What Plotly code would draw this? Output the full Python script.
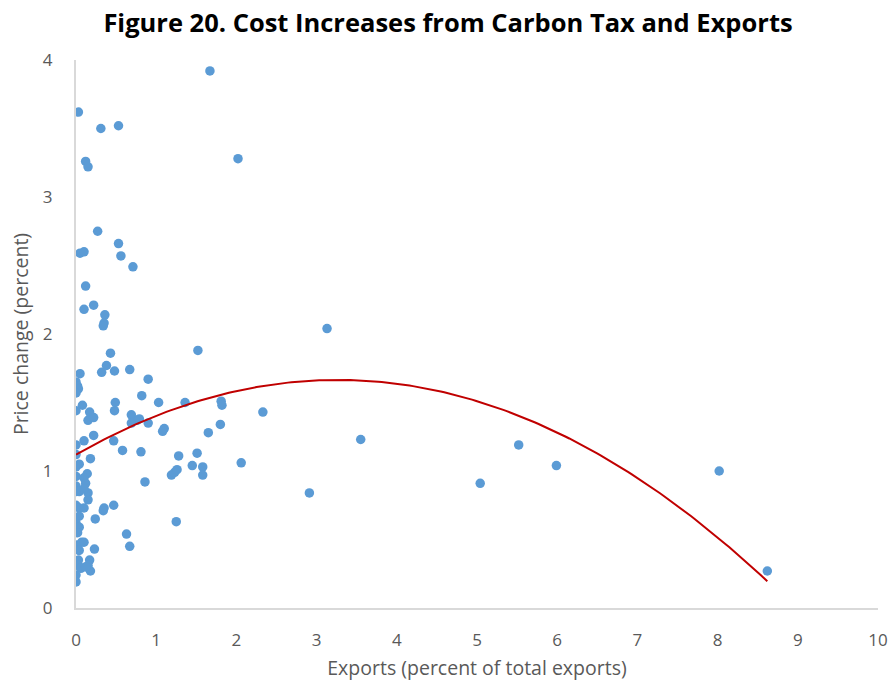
import numpy as np
import plotly.graph_objects as go

title_text = "Figure 20. Cost Increases from Carbon Tax and Exports"
x_title = "Exports (percent of total exports)"
y_title = "Price change (percent)"

exports = [1.67, 0.03, 0.31, 0.53, 0.12, 0.15, 2.02, 0.27, 0.53, 0.05,
           0.10, 0.56, 0.71, 0.12, 0.10, 0.22, 0.36, 0.35, 0.34, 3.13,
           1.52, 0.43, 0.38, 0.05, 0.32, 0.48, 0.67, 0.90, 0.00, 0.02,
           0.03, 0.00, 0.82, 0.08, 0.49, 0.48, 1.03, 1.36, 1.81, 1.82,
           0.00, 0.17, 0.15, 0.22, 0.69, 0.76, 0.79, 0.69, 0.90, 1.10,
           1.08, 1.65, 1.80, 2.33, 0.10, 0.22, 0.47, 0.00, 0.00, 0.58,
           0.81, 0.18, 1.28, 1.51, 2.06, 0.00, 0.04, 0.14, 1.45, 1.58,
           1.58, 1.19, 1.23, 1.26, 0.00, 0.10, 0.12, 0.86, 0.00, 0.00,
           0.04, 0.15, 0.10, 0.15, 0.00, 0.04, 0.10, 0.35, 0.34, 0.47,
           0.24, 1.25, 0.04, 0.00, 0.04, 0.02, 0.63, 0.67, 0.00, 0.07,
           0.04, 0.10, 0.23, 0.03, 0.03, 0.06, 0.17, 0.15, 0.18, 0.12,
           0.00, 0.00, 3.55, 2.91, 5.04, 5.52, 5.99, 8.02, 8.62]

price_change = [3.92, 3.62, 3.50, 3.52, 3.26, 3.22, 3.28, 2.75, 2.66, 2.59,
                2.60, 2.57, 2.49, 2.35, 2.18, 2.21, 2.14, 2.08, 2.06, 2.04,
                1.88, 1.86, 1.77, 1.71, 1.72, 1.73, 1.74, 1.67, 1.65, 1.62,
                1.60, 1.57, 1.55, 1.48, 1.50, 1.44, 1.50, 1.50, 1.51, 1.48,
                1.44, 1.43, 1.37, 1.39, 1.41, 1.37, 1.38, 1.35, 1.35, 1.31,
                1.29, 1.28, 1.34, 1.43, 1.22, 1.26, 1.22, 1.19, 1.12, 1.15,
                1.14, 1.09, 1.11, 1.13, 1.06, 1.03, 1.05, 0.98, 1.04, 1.03,
                0.97, 0.97, 0.99, 1.01, 0.96, 0.95, 0.91, 0.92, 0.89, 0.85,
                0.85, 0.84, 0.87, 0.79, 0.75, 0.73, 0.73, 0.73, 0.71, 0.75,
                0.65, 0.63, 0.67, 0.62, 0.59, 0.55, 0.54, 0.45, 0.46, 0.48,
                0.42, 0.48, 0.43, 0.35, 0.31, 0.29, 0.35, 0.31, 0.27, 0.30,
                0.24, 0.19, 1.23, 0.84, 0.91, 1.19, 1.04, 1.00, 0.27]

x_ticks = [0, 1, 2, 3, 4, 5, 6, 7, 8, 9, 10]
y_ticks = [0, 1, 2, 3, 4]

# Polynomial (order 2) trendline coefficients
trend_coef = [-0.0512, 0.334, 1.12]   # c2, c1, c0

xt = np.linspace(min(exports), max(exports), 200)
yt = np.polyval(trend_coef, xt)

fig = go.Figure()
fig.add_trace(go.Scatter(
    x=exports, y=price_change, mode="markers",
    marker=dict(color="#5B9BD5", size=9.5, line=dict(width=0)),
    showlegend=False, hoverinfo="x+y"))
fig.add_trace(go.Scatter(
    x=xt, y=yt, mode="lines",
    line=dict(color="#C00000", width=2),
    showlegend=False, hoverinfo="skip"))

axis_font = dict(family="Open Sans, sans-serif", size=19.5, color="#595959")
tick_font = dict(family="Open Sans, sans-serif", size=17, color="#595959")

W, H = 893, 681
fig.update_layout(
    width=W, height=H,
    paper_bgcolor="white", plot_bgcolor="white",
    margin=dict(l=76, r=15, t=60, b=73, autoexpand=False),
    title=dict(text="<b>" + title_text + "</b>", x=448 / W, xanchor="center",
               xref="container", yref="container",
               y=1 - 23 / H, yanchor="middle", automargin=False,
               font=dict(family="Open Sans, sans-serif", size=25.5, color="black")),
    xaxis=dict(range=[0, 10], tickvals=x_ticks, showgrid=False, zeroline=False,
               showline=True, linecolor="#D9D9D9", linewidth=2,
               ticks="", tickfont=tick_font, ticklabelstandoff=16,
               automargin=False,
               title=dict(text=x_title, font=axis_font, standoff=11)),
    yaxis=dict(range=[0, 4], tickvals=y_ticks, showgrid=False, zeroline=False,
               showline=True, linecolor="#D9D9D9", linewidth=2,
               ticks="", tickfont=tick_font, ticklabelstandoff=18,
               automargin=False,
               title=dict(text=y_title, font=axis_font, standoff=9)),
)

fig.write_html("out.html",
               config={"displayModeBar": False},
               post_script="document.body.style.margin='0';document.body.style.overflow='hidden';")
